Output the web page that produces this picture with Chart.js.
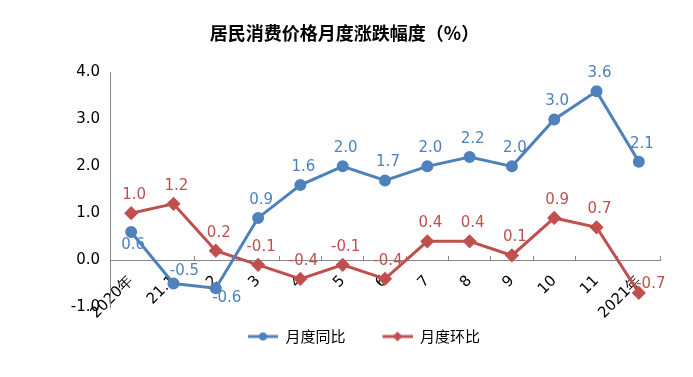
<!DOCTYPE html>
<html>
<head>
<meta charset="utf-8">
<script src="https://cdn.jsdelivr.net/npm/chart.js@4.4.1/dist/chart.umd.min.js"></script>
<style>
  html, body { margin: 0; padding: 0; background: #fff; }
  #wrap { width: 693px; height: 377px; }
</style>
</head>
<body>
<div id="wrap"><canvas id="grafica"></canvas></div>
<script>
// Datos
const categorias = ['2020年', '21.1', '2', '3', '4', '5', '6', '7', '8', '9', '10', '11', '2021年'];
const tongbi = [0.6, -0.5, -0.6, 0.9, 1.6, 2.0, 1.7, 2.0, 2.2, 2.0, 3.0, 3.6, 2.1];
const huanbi = [1.0, 1.2, 0.2, -0.1, -0.4, -0.1, -0.4, 0.4, 0.4, 0.1, 0.9, 0.7, -0.7];
const ticksY = [-1, 0, 1, 2, 3, 4];

const AZUL = '#4F81BD';
const ROJO = '#C0504D';
const GRIS = '#868686';

// Icono de leyenda: linea con marcador
function iconoLeyenda(color, estilo) {
    const cv = document.createElement('canvas');
    cv.width = 45;
    cv.height = 12;
    const g = cv.getContext('2d');
    g.strokeStyle = color;
    g.lineWidth = 3;
    g.beginPath();
    g.moveTo(15, 6);
    g.lineTo(45, 6);
    g.stroke();
    g.fillStyle = color;
    g.beginPath();
    if (estilo === 'circle') {
        g.arc(30, 6, 4, 0, Math.PI * 2);
    } else {
        g.moveTo(30, 1); g.lineTo(35, 6); g.lineTo(30, 11); g.lineTo(25, 6); g.closePath();
    }
    g.fill();
    return cv;
}
const iconos = [iconoLeyenda(AZUL, 'circle'), iconoLeyenda(ROJO, 'rectRot')];

// Posicion de etiquetas que no van encima del punto
const ajustes = {
    '0-0': {dx: 2, dy: 13},
    '0-1': {dx: 11, dy: -12},
    '0-2': {dx: 11, dy: 10},
    '1-12': {dx: 12, dy: -9}
};

const etiquetasDatos = {
    id: 'etiquetasDatos',
    afterDatasetsDraw(chart) {
        const ctx = chart.ctx;
        ctx.save();
        ctx.font = '15px "DejaVu Sans"';
        ctx.textAlign = 'center';
        ctx.textBaseline = 'middle';
        chart.data.datasets.forEach((ds, di) => {
            const meta = chart.getDatasetMeta(di);
            ctx.fillStyle = ds.borderColor;
            meta.data.forEach((pt, i) => {
                const a = ajustes[di + '-' + i] || {dx: 3, dy: -18};
                ctx.fillText(ds.data[i].toFixed(1), pt.x + a.dx, pt.y + a.dy);
            });
        });
        ctx.restore();
    }
};

// Titulo y leyenda centrados sobre todo el lienzo, no sobre el area con padding
const centrarCajas = {
    id: 'centrarCajas',
    afterLayout(chart) {
        if (chart.titleBlock) { chart.titleBlock.left = 0; chart.titleBlock.right = chart.width - 4; }
        if (chart.legend) { chart.legend.left = 20; chart.legend.right = chart.width; }
    }
};

new Chart(document.getElementById('grafica'), {
    type: 'line',
    data: {
        labels: categorias,
        datasets: [
            {
                label: '月度同比',
                data: tongbi,
                borderColor: AZUL,
                backgroundColor: AZUL,
                borderWidth: 3,
                pointStyle: 'circle',
                pointRadius: 4.5,
                pointHoverRadius: 4.5,
                tension: 0
            },
            {
                label: '月度环比',
                data: huanbi,
                borderColor: ROJO,
                backgroundColor: ROJO,
                borderWidth: 3,
                pointStyle: 'rectRot',
                pointRadius: 5,
                pointHoverRadius: 5,
                tension: 0
            }
        ]
    },
    options: {
        responsive: true,
        maintainAspectRatio: false,
        animation: false,
        layout: {padding: {left: 0, right: 33, top: 0, bottom: 23}},
        plugins: {
            title: {
                display: true,
                text: '居民消费价格月度涨跌幅度（%）',
                color: '#000',
                font: {family: '"Noto Sans CJK SC"', size: 18, weight: 'bold'},
                padding: {top: 22, bottom: 29}
            },
            legend: {
                position: 'bottom',
                labels: {
                    usePointStyle: true,
                    pointStyleWidth: 45,
                    padding: 22,
                    color: '#000',
                    font: {family: '"Noto Sans CJK SC"', size: 15},
                    generateLabels(chart) {
                        const base = Chart.defaults.plugins.legend.labels.generateLabels(chart);
                        base.forEach((l, i) => { l.pointStyle = iconos[i]; });
                        return base;
                    }
                }
            },
            tooltip: {enabled: false}
        },
        scales: {
            x: {
                position: {y: 0},
                offset: true,
                grid: {display: true, drawOnChartArea: false, offset: true, tickLength: -5, color: GRIS},
                border: {display: true, color: GRIS, width: 1},
                ticks: {
                    color: '#000',
                    font: {family: '"DejaVu Sans"', size: 15},
                    minRotation: 45,
                    maxRotation: 45,
                    padding: 17,
                    autoSkip: false
                }
            },
            y: {
                min: -1,
                max: 4,
                grid: {display: false, drawTicks: false},
                border: {display: true, color: GRIS, width: 1},
                afterBuildTicks(scale) { scale.ticks = ticksY.map(v => ({value: v})); },
                ticks: {
                    color: '#000',
                    padding: 10,
                    font: {family: '"DejaVu Sans"', size: 15},
                    callback: v => v.toFixed(1)
                },
                afterFit(scale) { scale.width = 110; }
            }
        }
    },
    plugins: [etiquetasDatos, centrarCajas]
});
</script>
</body>
</html>
